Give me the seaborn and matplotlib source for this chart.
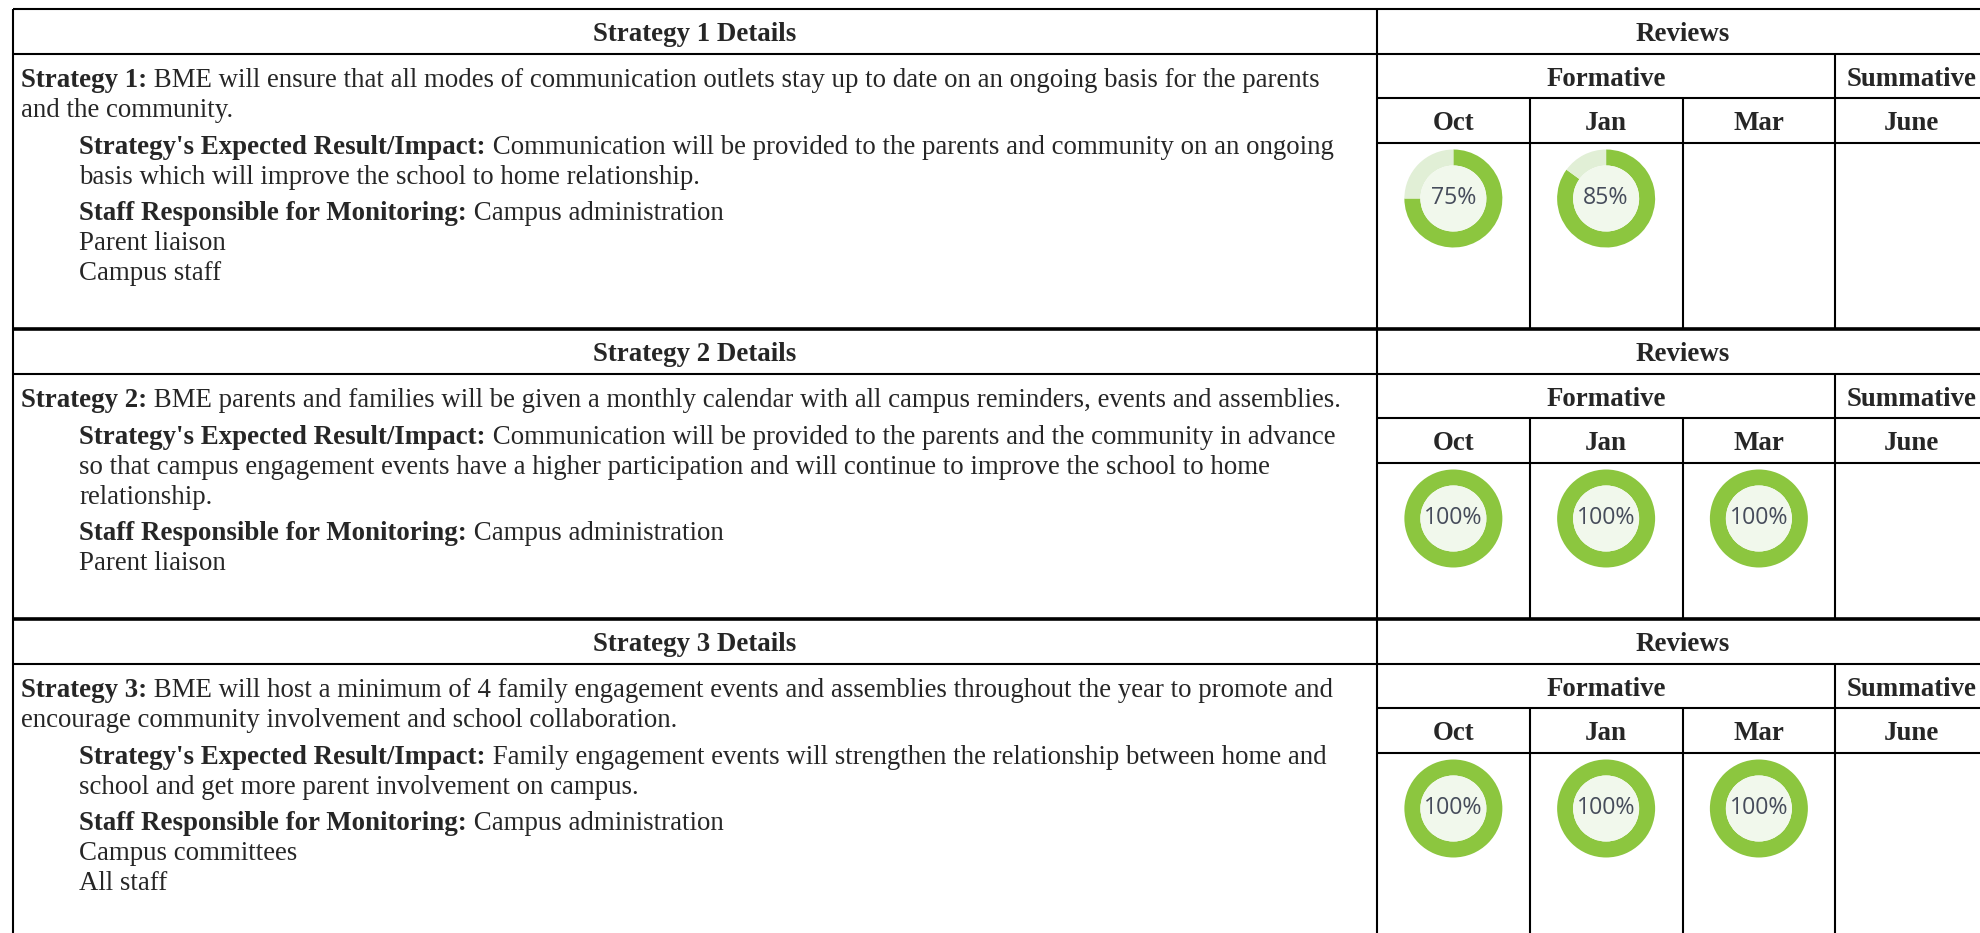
import matplotlib.pyplot as plt
import seaborn as sns
from matplotlib.patches import Circle

sns.set_theme(style="white")
plt.rcParams['font.family'] = ['Liberation Serif', 'DejaVu Serif']

# ---- data ----
section_titles = ["Strategy 1 Details", "Strategy 2 Details", "Strategy 3 Details"]
months = ["Oct", "Jan", "Mar", "June"]

strategy_1 = [
    ("Strategy 1:", ["BME will ensure that all modes of communication outlets stay up to date on an ongoing basis for the parents",
                     "and the community."]),
    ("Strategy's Expected Result/Impact:", ["Communication will be provided to the parents and community on an ongoing",
                                            "basis which will improve the school to home relationship."]),
    ("Staff Responsible for Monitoring:", ["Campus administration", "Parent liaison", "Campus staff"]),
]
strategy_2 = [
    ("Strategy 2:", ["BME parents and families will be given a monthly calendar with all campus reminders, events and assemblies."]),
    ("Strategy's Expected Result/Impact:", ["Communication will be provided to the parents and the community in advance",
                                            "so that campus engagement events have a higher participation and will continue to improve the school to home",
                                            "relationship."]),
    ("Staff Responsible for Monitoring:", ["Campus administration", "Parent liaison"]),
]
strategy_3 = [
    ("Strategy 3:", ["BME will host a minimum of 4 family engagement events and assemblies throughout the year to promote and",
                     "encourage community involvement and school collaboration."]),
    ("Strategy's Expected Result/Impact:", ["Family engagement events will strengthen the relationship between home and",
                                            "school and get more parent involvement on campus."]),
    ("Staff Responsible for Monitoring:", ["Campus administration", "Campus committees", "All staff"]),
]

# review percentages per strategy (None = not yet reviewed)
oct_pct = [75, 100, 100]
jan_pct = [85, 100, 100]
mar_pct = [None, 100, 100]
june_pct = [None, None, None]

# ---- layout (pixels) ----
W, H = 1980, 933
left, split, right = 13, 1377, 1988
col_w = (right - split) / 4
sec_tops = [9, 329, 619]
sec_bots = [329, 619, 960]
row_h = 44.5
fs = 19.4          # body font size (pt)
green, light, inner = '#8cc63f', '#e1efd6', '#f1f8ec'

fig = plt.figure(figsize=(W / 100, H / 100), dpi=100)
ax = fig.add_axes([0, 0, 1, 1])
ax.set_xlim(0, W)
ax.set_ylim(H, 0)
ax.axis('off')

thin, thick = 1.5, 2.6
ax.hlines(sec_tops[0], left, W, color='black', lw=thin)
ax.vlines([left, split], sec_tops[0], H, color='black', lw=thin)

strategies = [strategy_1, strategy_2, strategy_3]
pcts = list(zip(oct_pct, jan_pct, mar_pct, june_pct))


def donut(cx, cy, pct, r=49, ring=16):
    a = fig.add_axes([(cx - r) / W, 1 - (cy + r) / H, 2 * r / W, 2 * r / H])
    vals = [v for v in (pct, 100 - pct) if v > 0]
    cols = [green, light][:len(vals)]
    a.pie(vals, colors=cols, startangle=90, counterclock=False, radius=1,
          wedgeprops=dict(width=ring / r, linewidth=0))
    a.add_patch(Circle((0, 0), 1 - ring / r, color=inner, lw=0))
    a.text(0, 0, f"{pct}%", ha='center', va='center', fontsize=16.7,
           family=['Open Sans', 'DejaVu Sans'], color='#464c5b')
    a.set_xlim(-1, 1)
    a.set_ylim(-1, 1)
    a.set_aspect('equal')
    a.axis('off')


def header(x, y, s):
    ax.text(x, y, s, ha='center', va='baseline', fontsize=fs, fontweight='bold')


for i, top in enumerate(sec_tops):
    bot = sec_bots[i]
    if i > 0:
        ax.hlines(top, left, W, color='black', lw=thick)
    # header row
    ax.hlines(top + row_h, left, W, color='black', lw=thin)
    header((left + split) / 2, top + 32, section_titles[i])
    header((split + right) / 2, top + 32, "Reviews")
    # formative / summative
    ax.hlines([top + 2 * row_h, top + 3 * row_h], split, W, color='black', lw=thin)
    ax.vlines(split + 3 * col_w, top + row_h, bot, color='black', lw=thin)
    ax.vlines([split + col_w, split + 2 * col_w], top + 2 * row_h, bot, color='black', lw=thin)
    header(split + 1.5 * col_w, top + row_h + 33, "Formative")
    header(split + 3.5 * col_w, top + row_h + 33, "Summative")
    for j, m in enumerate(months):
        cx = split + (j + 0.5) * col_w
        header(cx, top + 2 * row_h + 32, m)
        if pcts[i][j] is not None:
            donut(cx, top + 3 * row_h + 56, pcts[i][j])

    # body text
    y = top + row_h + 33.5
    for k, (label, lines) in enumerate(strategies[i]):
        x = left + 8 if k == 0 else 79
        if k > 0:
            y += 36.5
        for n, line in enumerate(lines):
            if n == 0:
                t = ax.text(x, y, label, fontsize=fs, fontweight='bold', va='baseline', ha='left')
                ax.annotate(" " + line, xy=(1, 0), xycoords=t, va='bottom', ha='left', fontsize=fs)
            else:
                y += 30
                ax.text(x, y, line, fontsize=fs, va='baseline', ha='left')

fig.savefig('out.png', dpi=100, facecolor='white')
